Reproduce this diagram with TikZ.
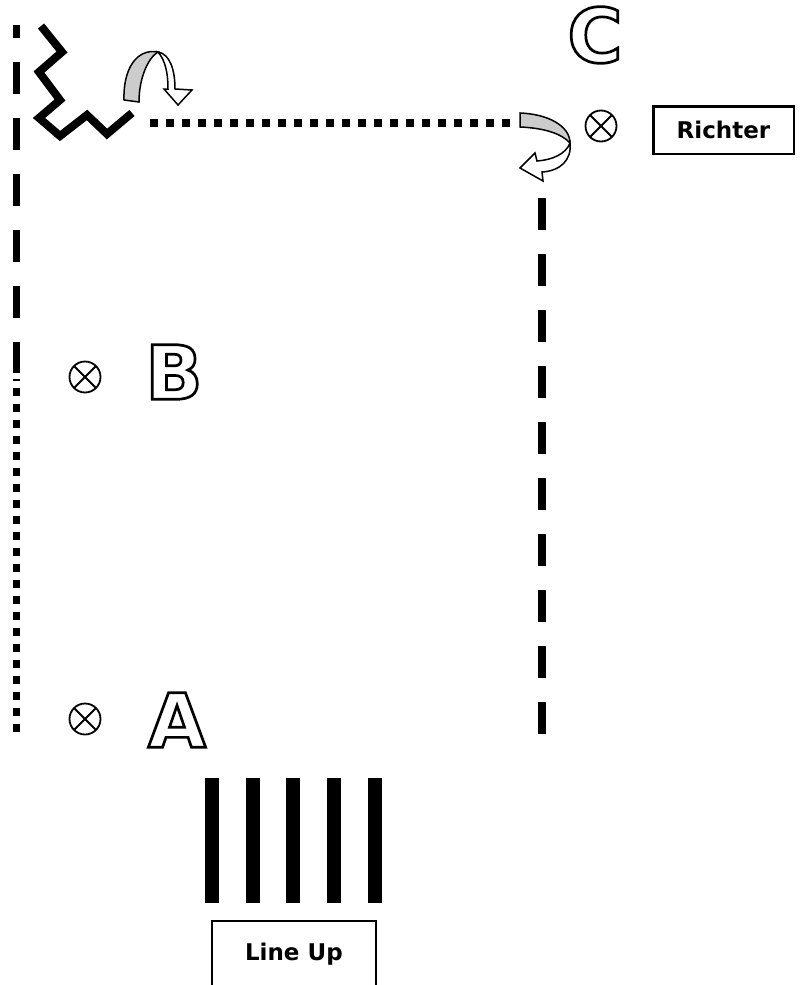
\documentclass[tikz,border=0pt]{standalone}
\usepackage{fontspec}
\setmainfont{DejaVu Sans}
\definecolor{arrowgray}{RGB}{204,204,204}
\newcommand{\hollow}[1]{\special{pdf:literal direct 1 Tr 2.7 w}#1\special{pdf:literal direct 0 Tr}}
\begin{document}
\begin{tikzpicture}[x=1pt, y=-1pt,
    spot/.pic={\draw [line width=1.8] (0,0) circle [radius=15.5pt] ;
               \draw [line width=1.8] (-11,-11) -- (11,11) (-11,11) -- (11,-11) ;},
    letter/.style={inner sep=0pt, font=\fontsize{75}{75}\selectfont\bfseries},
    namebox/.style={inner sep=0pt, line width=2.5, font=\fontsize{23}{23}\selectfont\bfseries}]
    \useasboundingbox (0,0) rectangle (801,985) ;
    % track lines
    \draw [line width=7, dash pattern=on 32 off 24, dash phase=19] (16.5,25) -- (16.5,373) ;
    \draw [line width=1.2] (13,380) -- (20,380) ;
    \draw [line width=7.5, dash pattern=on 7.5 off 8.5] (16.5,388) -- (16.5,732) ;
    \draw [line width=8, dash pattern=on 7.5 off 8.5] (150,122.5) -- (510,122.5) ;
    \draw [line width=8, dash pattern=on 32 off 24] (542,198) -- (542,734) ;
    \draw [line width=8, line join=miter] (41,26) -- (62,52) -- (39,72) -- (60,100) -- (39,118) -- (60,136) -- (87,115) -- (107,134) -- (132,113) ;
    % turn arrows
    \filldraw [fill=arrowgray, line width=1.5] (124,100) .. controls (123,70) and (136,48) .. (158,52) .. controls (148,58) and (139,78) .. (139,102) -- cycle ;
    \filldraw [fill=white, line width=1.5] (158,52) .. controls (170,54) and (175,70) .. (175,89) -- (192,90) -- (178,105) -- (164,89) -- (168,89) .. controls (168,72) and (165,60) .. (158,52) -- cycle ;
    \filldraw [fill=arrowgray, line width=1.5] (520,113) .. controls (548,114) and (570,126) .. (570,143) .. controls (562,134) and (545,128) .. (520,127) -- cycle ;
    \filldraw [fill=white, line width=1.5] (570,143) .. controls (572,160) and (560,171) .. (542,172) -- (543,181) -- (520,168) -- (535,153) -- (537,161) .. controls (552,160) and (566,154) .. (570,143) -- cycle ;
    % cones and letters
    \pic at (85,377) {spot} ;
    \pic at (85,719) {spot} ;
    \pic at (601,126) {spot} ;
    \node [letter] (B) at (174,372) {\hollow{B}} ;
    \node [letter] (A) at (177,720) {\hollow{A}} ;
    \node [letter] (C) at (595,35) {\hollow{C}} ;
    % judge and start
    \node [namebox, draw, minimum width=140.5, minimum height=47.5] (richter) at (723.5,130) {Richter} ;
    \foreach \x in {212,252.5,293,333.5,374.5}
        \draw [line width=14] (\x,778) -- (\x,903) ;
    \node [namebox, minimum width=161.2, minimum height=64] (lineup) at (293.9,954) {Line Up} ;
    \draw [line width=2.5] (lineup.south west) -- (lineup.north west) -- (lineup.north east) -- (lineup.south east) ;
\end{tikzpicture}
\end{document}
